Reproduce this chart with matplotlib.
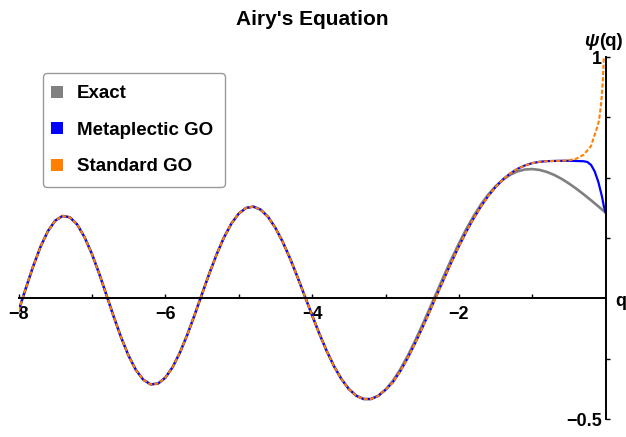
import numpy as np
import matplotlib
matplotlib.use("Agg")
import matplotlib.pyplot as plt
from matplotlib.lines import Line2D
from matplotlib.ticker import FixedLocator, FixedFormatter, NullFormatter

plt.rcParams["font.family"] = ["Liberation Sans", "DejaVu Sans"]
plt.rcParams["font.weight"] = "bold"

# ---------------------------------------------------------------- data
# oscillating region q in [-8, -3]: all three solutions coincide here
q_far = np.linspace(-8.0, -3.0, 51)
psi_far = [
    -0.0527, 0.0417, 0.1329, 0.2137, 0.2783, 0.3218, 0.3413, 0.3358, 0.3058, 0.2533,
    0.1843, 0.1017, 0.0121, -0.0783, -0.1635, -0.2380, -0.2971, -0.3373, -0.3564, -0.3535,
    -0.3291, -0.2851, -0.2243, -0.1506, -0.0683, 0.0178, 0.1030, 0.1826, 0.2526, 0.3095,
    0.3508, 0.3745, 0.3800, 0.3673, 0.3375, 0.2921, 0.2337, 0.1649, 0.0891, 0.0096,
    -0.0703, -0.1475, -0.2189, -0.2821, -0.3348, -0.3755, -0.4032, -0.4171, -0.4173, -0.4042,
    -0.3788,
]

# exact solution near the turning point, q in [-2.9, 0]
q_near = np.linspace(-2.9, 0.0, 30)
exact_near = [
    -0.3419, -0.2951, -0.2400, -0.1784, -0.1122, -0.0433, 0.0267, 0.0962, 0.1635, 0.2274,
    0.2868, 0.3408, 0.3886, 0.4299, 0.4643, 0.4917, 0.5123, 0.5262, 0.5338, 0.5356,
    0.5320, 0.5236, 0.5110, 0.4949, 0.4757, 0.4542, 0.4309, 0.4063, 0.3809, 0.3550,
]

# standard geometrical optics, diverging at the caustic q = 0
std_q_near = [
    -2.9, -2.8, -2.7, -2.6, -2.5, -2.4, -2.3, -2.2, -2.1, -2.0,
    -1.9, -1.8, -1.7, -1.6, -1.5, -1.4, -1.3, -1.2, -1.1, -1.0,
    -0.9, -0.8, -0.7, -0.6, -0.5, -0.4, -0.3, -0.2, -0.1,
    -0.08, -0.06, -0.05, -0.04, -0.03, -0.025, -0.02,
]
std_near = [
    -0.3482, -0.3028, -0.2491, -0.1887, -0.1236, -0.0554, 0.0141, 0.0833, 0.1507, 0.2151,
    0.2754, 0.3307, 0.3804, 0.4240, 0.4614, 0.4925, 0.5175, 0.5368, 0.5508, 0.5602,
    0.5658, 0.5684, 0.5693, 0.5699, 0.5721, 0.5787, 0.5948, 0.6310, 0.7242,
    0.7614, 0.8140, 0.8499, 0.8968, 0.9619, 1.0059, 1.0628,
]

# metaplectic GO: follows standard GO, then stays finite through the caustic
meta_q_tail = [-0.5, -0.4, -0.3, -0.25, -0.2, -0.15, -0.1, -0.05, -0.025, 0.0]
meta_tail = [0.570, 0.569, 0.568, 0.565, 0.553, 0.526, 0.482, 0.421, 0.381, 0.355]

x_major = [-8, -6, -4, -2]
x_major_labels = ["\u22128", "\u22126", "\u22124", "\u22122"]
x_minor = [-7, -5, -3, -1]
y_major = [-0.5, 1.0]
y_major_labels = ["\u22120.5", "1"]
y_minor = [-0.25, 0.25, 0.5, 0.75]

series_names = ["Exact", "Metaplectic GO", "Standard GO"]
series_colors = ["#808080", "#0000ff", "#ff8000"]

# ---------------------------------------------------------------- assemble
q_exact = np.concatenate([q_far, q_near])
psi_exact = list(psi_far) + exact_near

q_std = np.concatenate([q_far, std_q_near])
psi_std = list(psi_far) + std_near

n_shared = std_q_near.index(-0.6) + 1
q_meta = np.concatenate([q_far, std_q_near[:n_shared], meta_q_tail])
psi_meta = list(psi_far) + std_near[:n_shared] + meta_tail

# ---------------------------------------------------------------- figure
W, H = 626, 437
fig = plt.figure(figsize=(W / 100, H / 100), dpi=100)
ax = fig.add_axes([18.5 / W, 1 - 419 / H, (605.7 - 18.5) / W, (419 - 57) / H])

ax.plot(q_exact, psi_exact, color=series_colors[0], lw=1.9, zorder=2)
ax.plot(q_meta, psi_meta, color=series_colors[1], lw=1.6, zorder=3)
ax.plot(q_std, psi_std, color=series_colors[2], lw=1.5, ls=(0, (2.0, 1.0)), zorder=4)

ax.set_xlim(-8, 0)
ax.set_ylim(-0.5, 1.0)

for side in ("top", "right"):
    ax.spines[side].set_visible(False)
ax.spines["bottom"].set_position(("data", 0))
ax.spines["left"].set_position(("data", 0))
for side in ("bottom", "left"):
    ax.spines[side].set_linewidth(1.4)
    ax.spines[side].set_zorder(5)

ax.xaxis.set_major_locator(FixedLocator(x_major))
ax.xaxis.set_major_formatter(FixedFormatter(x_major_labels))
ax.xaxis.set_minor_locator(FixedLocator(x_minor))
ax.xaxis.set_minor_formatter(NullFormatter())
ax.yaxis.set_major_locator(FixedLocator(y_major))
ax.yaxis.set_major_formatter(FixedFormatter(y_major_labels))
ax.yaxis.set_minor_locator(FixedLocator(y_minor))
ax.yaxis.set_minor_formatter(NullFormatter())

ax.tick_params(axis="x", which="both", direction="in", length=3, width=1,
               pad=5.8, labelsize=13)
ax.tick_params(axis="y", which="both", direction="in", length=3, width=1,
               pad=3, labelsize=13)
for lbl in ax.get_xticklabels() + ax.get_yticklabels():
    lbl.set_fontweight("bold")

# axis labels at the ends of the axes
fig.text(620.5 / W, 1 - 306 / H, "q", ha="center", va="baseline",
         fontsize=13, fontweight="bold")
fig.text(599 / W, 1 - 46 / H, "\u03c8", ha="right", va="baseline",
         fontsize=13.5, fontweight="bold", fontstyle="italic")
fig.text(599 / W, 1 - 46 / H, "(q)", ha="left", va="baseline",
         fontsize=13.5, fontweight="bold")

fig.text(312 / W, 1 - 25 / H, "Airy's Equation", ha="center", va="baseline",
         fontsize=15, fontweight="bold")

handles = [Line2D([], [], ls="none", marker="s", markersize=8,
                  markerfacecolor=c, markeredgewidth=0) for c in series_colors]
leg = ax.legend(handles, series_names, loc="upper left",
                bbox_to_anchor=(43.3 / W, 1 - 73.3 / H),
                bbox_transform=fig.transFigure, borderaxespad=0,
                prop={"weight": "bold", "size": 13.5}, frameon=True,
                fancybox=True, edgecolor="#9a9a9a", framealpha=1,
                borderpad=0.63, handlelength=0.2, handletextpad=0.95,
                labelspacing=1.03)
leg.get_frame().set_linewidth(1.0)
leg.set_zorder(10)

fig.savefig("out.png", dpi=100)
